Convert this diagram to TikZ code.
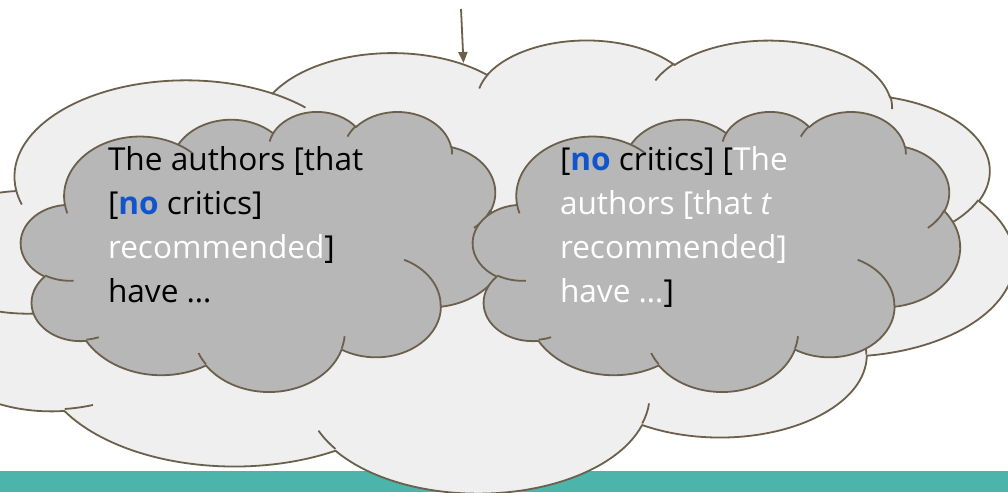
\documentclass[tikz,border=0pt]{standalone}
\usepackage{fontspec}
\setmainfont{Open Sans}
\usetikzlibrary{arrows.meta}
\definecolor{edgebrown}{RGB}{106,96,76}
\definecolor{lightfill}{HTML}{EFEFEF}
\definecolor{darkfill}{HTML}{B7B7B7}
\definecolor{nblue}{HTML}{1155CC}
\definecolor{barteal}{RGB}{76,180,171}

% one arc of the cloud outline: name, wR, hR, start angle, sweep (geometric, degrees)
\newcommand\mkcloudarc[5]{%
  \pgfmathsetmacro\cloudtA{atan2((#2)*sin(#4),(#3)*cos(#4))}%
  \pgfmathsetmacro\cloudtB{atan2((#2)*sin((#4)+(#5)),(#3)*cos((#4)+(#5)))}%
  \pgfmathsetmacro\cloudtD{mod(\cloudtB-\cloudtA+720,360)}%
  \edef\cloudtmp{\noexpand\tikzset{#1/.style={x radius=#2pt,y radius=#3pt,start angle=\cloudtA,delta angle=\cloudtD}}}%
  \cloudtmp}
\mkcloudarc{ca1}{6.753}{9.190}{-190.48748}{123.78053}
\mkcloudarc{ca2}{5.333}{7.267}{-144.10238}{89.94523}
\mkcloudarc{ca3}{4.365}{5.945}{-145.80792}{99.72302}
\mkcloudarc{ca4}{4.857}{6.595}{-130.98607}{117.24173}
\mkcloudarc{ca5}{5.333}{7.273}{-78.70888}{109.02692}
\mkcloudarc{ca6}{6.775}{9.220}{-46.26725}{130.269}
\mkcloudarc{ca7}{5.785}{7.867}{0.62502}{114.03333}
\mkcloudarc{ca8}{6.752}{9.215}{22.4516}{115.17255}
\mkcloudarc{ca9}{7.720}{10.543}{66.24263}{75.71102}
\mkcloudarc{ca10}{4.360}{5.918}{-274.94208}{146.73557}
\mkcloudarc{ca11}{4.345}{5.945}{-246.8285}{152.51885}
\mkcloudarc{cb1}{4.345}{5.945}{86.742}{26.4295}
\mkcloudarc{cb2}{4.360}{5.918}{73.61047}{11.44747}
\mkcloudarc{cb3}{6.752}{9.215}{137.62415}{14.0811}
\mkcloudarc{cb4}{6.752}{9.215}{6.45327}{15.99835}
\mkcloudarc{cb5}{5.785}{7.867}{-70.29235}{70.91737}
\mkcloudarc{cb6}{5.333}{7.273}{30.31803}{27.7515}
\mkcloudarc{cb7}{4.857}{6.595}{-13.74433}{14.8589}
\mkcloudarc{cb8}{4.857}{6.595}{-149.18145}{18.19537}
\mkcloudarc{cb9}{4.365}{5.945}{-163.49427}{17.68635}
\mkcloudarc{cb10}{6.753}{9.190}{-66.70695}{12.31935}
\mkcloudarc{cb11}{6.753}{9.190}{157.65435}{11.85817}

\tikzset{
  cloudline/.style={draw=edgebrown,line width=1.8pt,line join=round},
  txt/.style={anchor=base west,inner sep=0pt,outer sep=0pt,
    font=\fontsize{31.6}{38}\selectfont,text=black},
  wtxt/.style={txt,text=white},
  arrowline/.style={draw=edgebrown,line width=1.8pt,
    -{Triangle[length=11pt,width=9pt]}},
}

% name, x0, y0, width, height, fill (pixel units, y downwards)
\newcommand\drawcloud[6]{%
  \begin{scope}[shift={(#2,#3)},xscale=#4/43.2,yscale=#5/43.2]
    \path[cloudline,fill=#6] (3.9,14.37) coordinate (#1)
      arc[ca1] arc[ca2] arc[ca3] arc[ca4] arc[ca5] arc[ca6]
      arc[ca7] arc[ca8] arc[ca9] arc[ca10] arc[ca11] -- cycle;
    \path[cloudline]
      (4.693,26.177) arc[cb1]
      (6.928,34.899) arc[cb2]
      (16.478,39.090) arc[cb3]
      (28.827,34.751) arc[cb4]
      (34.129,22.954) arc[cb5]
      (41.798,15.354) arc[cb6]
      (38.324,5.426) arc[cb7]
      (29.078,3.952) arc[cb8]
      (22.141,4.720) arc[cb9]
      (14.000,5.192) arc[cb10]
      (4.127,15.789) arc[cb11];
  \end{scope}}

\begin{document}
\begin{tikzpicture}[x=1pt,y=1pt,yscale=-1]
  \useasboundingbox (0,0) rectangle (1008,492);
  \fill[white] (0,0) rectangle (1008,492);
  \clip (0,0) rectangle (1008,492);
  \fill[barteal] (0,470.5) rectangle (1008,492);

  \drawcloud{bigcloud}{-83}{39}{1097}{453}{lightfill}
  \drawcloud{leftcloud}{21}{111}{485}{280}{darkfill}
  \drawcloud{rightcloud}{473}{111}{487}{280}{darkfill}

  \coordinate (arrowtop) at (461,9);
  \coordinate (arrowtip) at (463.5,63);
  \draw[arrowline] (arrowtop) -- (arrowtip);

  \node[txt] (l1) at (108,170.7) {The authors [that};
  \node[txt] (l2) at (108,214.7) {[{\bfseries\color{nblue}no} critics]};
  \node[txt] (l3) at (108,258.7) {{\color{white}recommended}]};
  \node[txt] (l4) at (108,302.7) {have …};

  \node[txt] (r1) at (560,170.7) {[{\bfseries\color{nblue}no} critics] [{\color{white}The}};
  \node[wtxt] (r2) at (560,214.7) {authors [that \textit{t}};
  \node[wtxt] (r3) at (560,258.7) {recommended]};
  \node[txt] (r4) at (560,302.7) {{\color{white}have …}]};
\end{tikzpicture}
\end{document}
